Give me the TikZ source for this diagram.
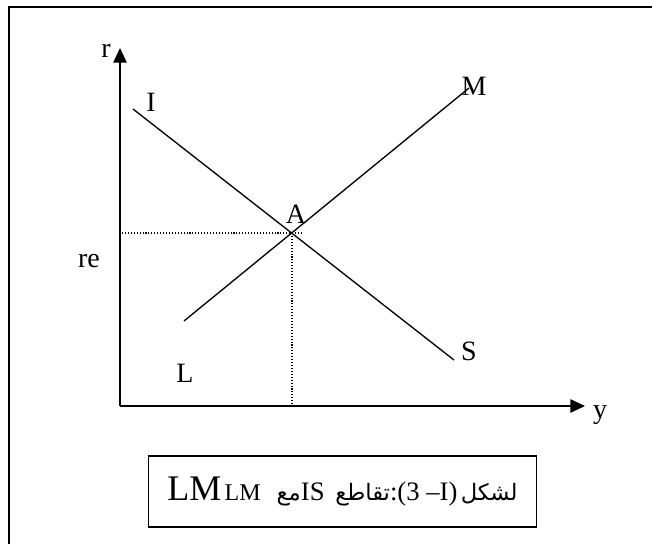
\documentclass[tikz,border=0pt]{standalone}
\usepackage{fontspec}
\setmainfont{Liberation Serif}
\newfontfamily\arabicfont[Script=Arabic]{DejaVu Sans}
\TeXXeTstate=1
\usetikzlibrary{arrows.meta}
\newcommand{\arword}[1]{{\arabicfont\fontsize{17}{19}\selectfont\beginR #1\endR}}

\begin{document}
\begin{tikzpicture}[x=0.75pt, y=-0.75pt, >={Triangle[length=11pt,width=10pt]},
  lbl/.style={font=\fontsize{21}{23}\selectfont, inner sep=0pt, anchor=base},
  axis/.style={line width=1.3pt},
  curve/.style={line width=1pt},
  guide/.style={line width=0.8pt, dash pattern=on 0.8pt off 1.4pt}]
  \useasboundingbox (0,0) rectangle (652,543);
  % outer frame (runs off the page at right and bottom)
  \draw[line width=1.6pt] (9,570) |- (680,7);
  % axes
  \coordinate (O) at (120,406);
  \coordinate (rtip) at (120,48);
  \coordinate (ytip) at (585,406);
  \draw[axis,->] (O) -- (rtip);
  \draw[axis,->] (O) -- (ytip);
  \node[lbl] (r) at (106,57) {r};
  \node[lbl] (y) at (600,418) {y};
  % IS and LM lines
  \coordinate (is1) at (133,109);
  \coordinate (is2) at (454,360);
  \coordinate (lm1) at (184,321);
  \coordinate (lm2) at (469,88);
  \draw[curve] (is1) -- (is2);
  \draw[curve] (lm1) -- (lm2);
  % equilibrium point and guides
  \coordinate (A) at (292,233);
  \coordinate (reax) at (122,233);
  \coordinate (reend) at (302,233);
  \coordinate (yeax) at (292,406);
  \draw[guide] (reax) -- (reend);
  \draw[guide] (A) -- (yeax);
  \node[lbl] (Alab) at (296,223) {A};
  \node[lbl] (Ilab) at (151,111) {I};
  \node[lbl] (Mlab) at (474,95) {M};
  \node[lbl] (Slab) at (469,360) {S};
  \node[lbl] (Llab) at (185,382) {L};
  \node[lbl] (re) at (89,267) {re};
  % caption box
  \node[draw, line width=1pt, anchor=west, inner xsep=14pt, inner ysep=0pt,
        minimum height=71*0.75pt] (cap) at (148,491.5)
    {{\fontsize{27}{29}\selectfont LM} {\fontsize{18}{20}\selectfont LM}\hspace{12pt}%
     \arword{مع}{\fontsize{20}{22}\selectfont IS}\hspace{8pt}%
     \arword{تقاطع}{\fontsize{20}{22}\selectfont :(3 –I)} \arword{لشكل}};
\end{tikzpicture}
\end{document}
